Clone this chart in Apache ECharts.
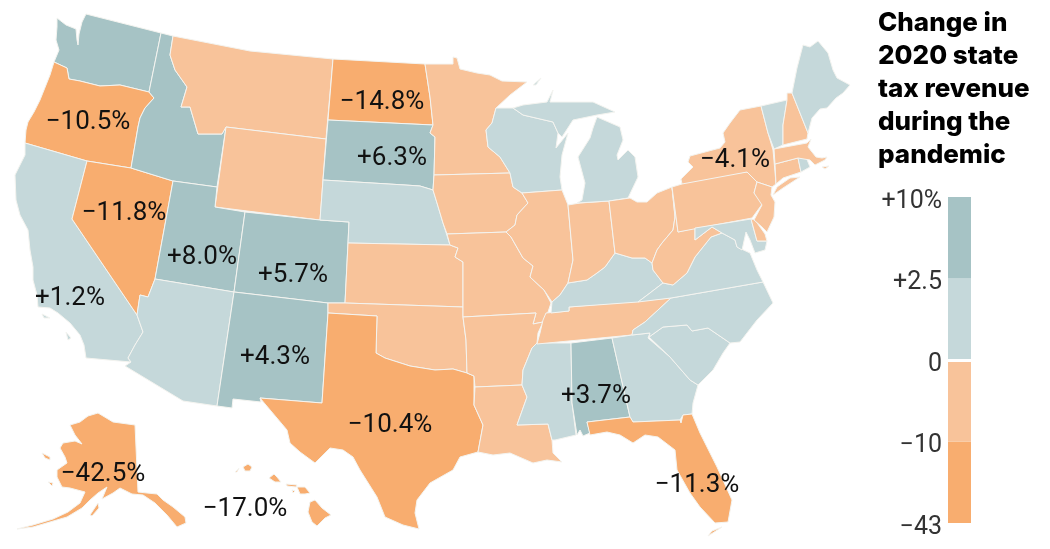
<!DOCTYPE html>
<html>
<head>
<meta charset="utf-8">
<title>Change in 2020 state tax revenue</title>
<style>
  html, body { margin: 0; padding: 0; background: #fff; }
  #main { width: 1050px; height: 549px; }
</style>
</head>
<body>
<div id="main"></div>
<script src="https://cdn.jsdelivr.net/npm/echarts@6/dist/echarts.min.js"></script>
<script>
// values printed on the map are exact, the other states only show their colour band
var stateNames = ['WA','OR','CA','NV','ID','MT','WY','UT','CO','AZ','NM','ND','SD','NE','KS','OK','TX',
  'MN','IA','MO','AR','LA','WI','IL','MS','AL','TN','KY','IN','MI','MI2','OH','GA','FL','SC','NC','VA','WV','PA','NY',
  'MD','DE','NJ','CT','RI','MA','VT','NH','ME','AK','HI'];
var stateValues = [3,-10.5,1.2,-11.8,3,-5,-5,8.0,5.7,1,4.3,-14.8,6.3,1,-5,-5,-10.4,
  -5,-5,-5,-5,-5,1,-5,1,3.7,-5,1,-5,1,1,-5,1,-11.3,1,1,1,-5,-5,-4.1,
  1,-5,-5,-5,1,-5,1,-5,1,-42.5,-17.0];
var printedStates = ['OR','NV','ND','SD','UT','CO','CA','NM','TX','AL','FL','NY','AK','HI'];
var bandEdges = [-43, -10, 0, 2.5, 10];
var bandLabels = ['−43', '−10', '0', '+2.5', '+10%'];
var bandColors = ['#f8ad6f', '#f8c39a', '#c5d8da', '#a6c3c5'];

// hand traced outlines, in picture pixels
var outlines = {
  WA: [[[57,18],[66,25],[76,29],[77,40],[78,45],[79,34],[82,22],[86,14],[161,33],[149,92],[120,85],[100,86],[80,81],[69,79],[67,68],[54,62],[59,50],[56,40],[57,27]]],
  OR: [[[54,62],[67,68],[69,79],[80,81],[100,86],[120,85],[149,92],[154,98],[145,108],[140,118],[138,127],[131,168],[87,161],[25,143],[26,130],[28,122],[34,112],[40,100],[46,85],[50,75]]],
  CA: [[[25,143],[87,161],[72,219],[137,315],[143,332],[135,345],[128,358],[131,362],[86,358],[84,345],[80,335],[70,323],[58,313],[50,308],[38,307],[37,295],[33,280],[33,267],[30,250],[28,230],[20,215],[16,200],[15,175],[25,155]],
    [[42,314],[50,318],[44,318]],[[66,332],[71,338],[68,340]]],
  NV: [[[87,161],[131,168],[173,181],[155,279],[148,297],[140,295],[137,315],[72,219]]],
  ID: [[[161,33],[173,36],[170,55],[175,70],[187,87],[181,107],[190,107],[198,134],[222,134],[226,127],[217,187],[173,181],[131,168],[138,127],[140,118],[145,108],[154,98],[149,92]]],
  MT: [[[173,36],[250,51],[333,59],[326,139],[226,127],[222,134],[198,134],[190,107],[181,107],[187,87],[175,70],[170,55]]],
  WY: [[[226,127],[326,139],[320,220],[215,207]]],
  UT: [[[173,181],[217,187],[215,207],[245,212],[234,292],[155,279]]],
  CO: [[[245,212],[320,220],[349,222],[348,243],[345,303],[328,303],[234,292]]],
  AZ: [[[155,279],[234,292],[217,406],[183,401],[125,366],[131,362],[128,358],[135,345],[143,332],[137,315],[140,295],[148,297]]],
  NM: [[[234,292],[328,303],[328,313],[322,403],[260,398],[261,402],[233,399],[232,408],[217,406]]],
  ND: [[[333,59],[425,64],[430,97],[433,125],[328,120]]],
  SD: [[[328,120],[433,125],[430,133],[435,137],[434,175],[433,190],[420,186],[405,185],[323,180]]],
  NE: [[[323,180],[405,185],[420,186],[433,190],[437,203],[443,223],[450,245],[348,243],[349,222],[320,220]]],
  KS: [[[348,243],[450,245],[458,248],[455,257],[463,262],[463,307],[345,303]]],
  OK: [[[328,303],[345,303],[463,307],[463,317],[466,340],[467,373],[453,369],[435,370],[410,366],[385,358],[376,353],[377,316],[328,313]]],
  TX: [[[328,313],[377,316],[376,353],[385,358],[410,366],[435,370],[453,369],[467,373],[474,376],[474,405],[483,425],[478,452],[460,457],[453,470],[430,483],[417,500],[415,513],[419,529],[403,525],[385,517],[377,497],[360,470],[353,457],[343,450],[330,448],[320,458],[315,463],[300,452],[290,443],[287,430],[260,398],[322,403]]],
  MN: [[[425,64],[453,64],[453,57],[457,58],[460,69],[477,73],[490,75],[502,81],[527,82],[510,95],[496,108],[492,123],[486,130],[488,147],[500,157],[510,173],[434,175],[435,137],[430,133],[433,125],[430,97]]],
  IA: [[[434,175],[510,173],[513,187],[522,193],[528,203],[517,215],[515,225],[506,232],[447,234],[443,223],[437,203],[433,190]]],
  MO: [[[447,234],[506,232],[511,237],[523,258],[533,266],[530,277],[544,290],[551,303],[548,312],[543,322],[533,324],[536,313],[463,317],[463,307],[463,262],[455,257],[458,248],[450,245]]],
  AR: [[[463,317],[536,313],[533,324],[543,322],[538,333],[537,343],[532,348],[523,370],[522,385],[475,387],[474,376],[467,373],[466,340]]],
  LA: [[[475,387],[522,385],[527,397],[517,425],[548,424],[552,440],[553,453],[562,462],[547,460],[533,463],[510,453],[493,455],[478,452],[483,425],[474,405]]],
  WI: [[[496,108],[513,108],[523,115],[553,122],[558,133],[556,148],[568,133],[562,155],[560,177],[562,190],[522,193],[513,187],[510,173],[500,157],[488,147],[486,130],[492,123]]],
  IL: [[[522,193],[562,190],[568,205],[573,260],[568,283],[560,295],[552,302],[544,290],[530,277],[533,266],[523,258],[511,237],[506,232],[515,225],[517,215],[528,203]]],
  MS: [[[537,343],[571,343],[572,403],[576,435],[555,440],[552,440],[548,424],[517,425],[527,397],[522,385],[523,370],[532,348]]],
  AL: [[[571,343],[612,338],[630,417],[587,422],[590,433],[583,436],[580,430],[577,435],[576,435],[572,403]]],
  TN: [[[537,344],[540,333],[543,320],[546,313],[569,311],[569,307],[671,298],[658,310],[645,322],[633,330],[632,335]]],
  KY: [[[552,302],[560,295],[568,283],[587,280],[597,273],[605,267],[615,253],[632,258],[645,258],[652,263],[653,270],[663,283],[650,293],[638,302],[569,307],[569,311],[551,313]]],
  IN: [[[568,205],[580,203],[609,201],[615,253],[605,267],[597,273],[587,280],[568,283],[573,260]]],
  MI: [[[577,203],[609,201],[628,198],[638,177],[635,157],[628,150],[618,160],[617,155],[623,140],[620,127],[597,117],[593,128],[590,138],[578,157],[585,183],[582,200]]],
  MI2: [[[513,108],[523,105],[547,102],[553,90],[550,102],[560,102],[593,102],[615,112],[597,115],[573,120],[562,137],[558,133],[553,122],[523,115]],
    [[533,85],[541,78],[536,85]]],
  OH: [[[672,187],[675,217],[673,230],[662,243],[657,250],[652,263],[645,258],[632,258],[615,253],[609,201],[630,198],[637,202],[647,202],[657,193]]],
  GA: [[[612,338],[632,335],[650,333],[648,338],[670,357],[690,380],[698,385],[693,403],[692,414],[683,415],[680,420],[633,422],[630,417]]],
  FL: [[[587,422],[630,417],[633,422],[680,420],[681,423],[683,415],[692,414],[700,433],[717,467],[732,500],[728,522],[715,523],[700,507],[690,493],[677,470],[675,450],[658,437],[645,435],[633,443],[620,435],[607,432],[590,435]],
    [[712,531],[722,527],[708,536]]],
  SC: [[[649,337],[663,327],[687,325],[692,331],[708,328],[730,343],[723,353],[713,370],[698,385],[690,380],[670,357]]],
  NC: [[[632,335],[633,330],[645,322],[658,310],[671,298],[763,282],[773,303],[757,320],[740,342],[730,343],[708,328],[692,331],[687,325],[663,327],[649,337],[650,333]]],
  VA: [[[638,302],[650,293],[663,283],[673,285],[687,273],[695,257],[703,247],[711,237],[722,233],[735,240],[737,247],[750,253],[757,270],[763,282],[671,298]]],
  WV: [[[678,232],[695,228],[695,240],[712,227],[722,233],[711,237],[703,247],[695,257],[687,273],[673,285],[663,283],[653,270],[652,263],[657,250],[662,243],[673,230],[675,217],[672,187]]],
  PA: [[[682,184],[681,179],[747,172],[757,182],[754,193],[763,203],[752,218],[678,232],[672,187]]],
  NY: [[[761,106],[740,110],[730,123],[723,133],[725,142],[720,148],[690,156],[688,162],[693,167],[681,179],[682,184],[747,172],[757,182],[772,187],[776,184],[775,172],[773,150],[768,133]],
    [[777,187],[790,178],[800,177],[783,188],[773,195]]],
  MD: [[[695,228],[751,219],[757,241],[767,241],[765,250],[755,253],[750,240],[746,232],[742,250],[737,247],[735,240],[722,233],[712,227],[695,240]]],
  DE: [[[751,219],[755,220],[765,234],[767,241],[757,241]]],
  NJ: [[[757,182],[772,187],[771,195],[775,202],[774,217],[767,232],[762,227],[754,220],[762,205],[754,193]]],
  CT: [[[775,164],[798,158],[801,172],[783,178],[776,184]]],
  RI: [[[798,158],[806,157],[810,167],[801,172]]],
  MA: [[[774,149],[807,143],[811,139],[808,147],[816,157],[822,158],[827,157],[825,160],[815,165],[810,160],[798,158],[775,164]],
    [[822,167],[829,166],[825,169]]],
  VT: [[[761,106],[787,100],[783,125],[783,137],[783,145],[774,149],[773,150],[768,133]]],
  NH: [[[787,93],[792,93],[808,133],[807,139],[783,145],[783,125],[787,100]]],
  ME: [[[792,93],[797,68],[803,45],[810,47],[818,41],[828,53],[833,70],[837,78],[850,85],[843,93],[836,98],[827,108],[820,109],[812,118],[808,133]]],
  AK: [[[98,413],[113,422],[135,425],[138,492],[147,493],[157,494],[163,500],[173,507],[185,517],[186,523],[177,527],[167,515],[155,503],[143,495],[132,494],[120,488],[113,493],[102,499],[107,487],[98,493],[90,500],[82,508],[67,517],[50,522],[33,527],[17,529],[33,525],[53,519],[68,512],[80,503],[85,492],[70,488],[62,487],[57,477],[57,470],[67,463],[65,457],[60,448],[63,443],[75,441],[82,444],[75,435],[70,425],[80,422],[88,416]],
    [[90,515],[98,503],[99,508],[92,516]],[[42,453],[50,457],[50,460],[45,458]],[[48,482],[53,483],[52,486]]],
  HI: [[[308,512],[310,502],[315,500],[322,508],[331,515],[325,518],[317,526],[312,522]],[[297,487],[305,487],[310,493],[305,494],[300,494]],[[286,484],[297,485],[296,487],[287,486]],
    [[292,490],[295,491],[293,493]],[[269,478],[274,474],[277,477],[281,482],[275,482]],[[243,467],[248,464],[252,467],[250,471],[245,471]],[[235,472],[239,468],[237,472]]]
};

// where the printed value sits on each labelled state
var labelAnchors = {
  OR: [88,122], NV: [124,213], ND: [382,102], SD: [392,158], UT: [202,257], CO: [293,275], CA: [70,298],
  NM: [275,357], TX: [390,425], AL: [596,396], FL: [697,485], NY: [735,160], AK: [103,474], HI: [245,509]
};

var features = stateNames.map(function (name) {
  return {
    type: 'Feature',
    properties: { name: name, cp: labelAnchors[name] },
    geometry: { type: 'MultiPolygon', coordinates: outlines[name].map(function (ring) { return [ring]; }) }
  };
});
echarts.registerMap('states', { type: 'FeatureCollection', features: features });

var mapData = stateNames.map(function (name, i) {
  return { name: name, value: stateValues[i], label: { show: printedStates.indexOf(name) >= 0 } };
});

function formatChange(v) {
  return (v > 0 ? '+' : '−') + Math.abs(v).toFixed(1) + '%';
}

var labelFont = 'Roboto';

// legend bar: four equal stacked blocks, the band edges are labelled on the axis
var legendSeries = bandColors.map(function (color, i) {
  return {
    type: 'bar', stack: 'bands', silent: true, barWidth: '100%',
    data: [1],
    itemStyle: { color: color },
    markLine: i === 2 ? {
      silent: true, symbol: 'none', label: { show: false },
      lineStyle: { color: '#fff', width: 3, type: 'solid' },
      data: [{ yAxis: 2 }]
    } : undefined
  };
});

var myChart = echarts.init(document.getElementById('main'));
myChart.setOption({
  backgroundColor: '#fff',
  animation: false,
  title: {
    text: 'Change in\n2020 state\ntax revenue\nduring the\npandemic',
    left: 873, top: 2,
    textStyle: { fontFamily: 'Inter', fontWeight: 800, fontSize: 26, lineHeight: 33, color: '#000' }
  },
  visualMap: {
    show: false, type: 'piecewise', seriesIndex: 0,
    pieces: bandColors.map(function (color, i) {
      return { gte: bandEdges[i], lt: bandEdges[i + 1], color: color };
    })
  },
  grid: { left: 948, top: 197, width: 23, height: 326 },
  xAxis: { type: 'category', data: ['band'], show: false },
  yAxis: {
    type: 'value', min: 0, max: 4, interval: 1,
    axisLine: { show: false }, axisTick: { show: false }, splitLine: { show: false },
    axisLabel: {
      margin: 6,
      // the labels sit a little under their band edge
      rich: { edge: { color: '#333', fontFamily: labelFont, fontSize: 25, padding: [9, 0, 0, 0] } },
      formatter: function (v) { return '{edge|' + bandLabels[v] + '}'; }
    }
  },
  series: [{
    type: 'map',
    map: 'states',
    projection: {
      project: function (p) { return p; },
      unproject: function (p) { return p; }
    },
    boundingCoords: [[0, 0], [1050, 549]],
    left: 0, top: 0, width: 1050, height: 549,
    silent: true,
    selectedMode: false,
    data: mapData,
    itemStyle: { borderColor: '#f4f4f0', borderWidth: 1 },
    label: {
      show: false, color: '#111', fontFamily: labelFont, fontSize: 26,
      formatter: function (p) { return formatChange(p.value); }
    }
  }].concat(legendSeries)
});
</script>
</body>
</html>
